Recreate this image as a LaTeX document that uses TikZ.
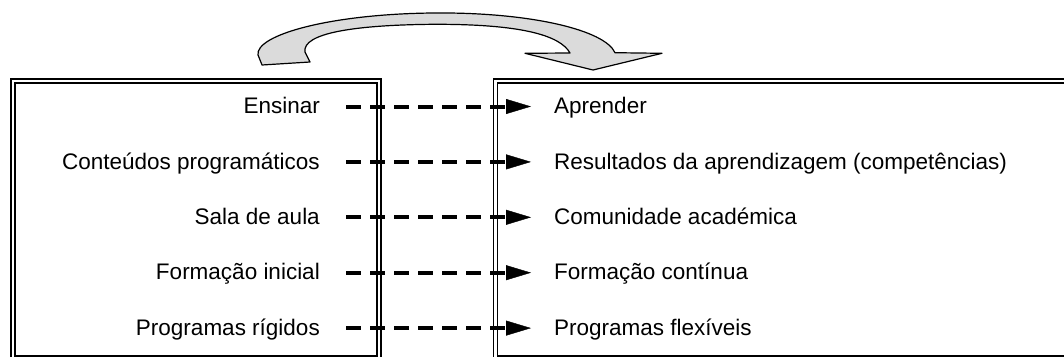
\documentclass[tikz,border=0pt]{standalone}
\usepackage{fontspec}
\setmainfont{Liberation Sans}
\usetikzlibrary{arrows.meta, positioning}

\begin{document}
\begin{tikzpicture}[x=1pt, y=-1pt, >=stealth]
    \tikzstyle{box} = [draw, double, line width=1.6pt, double distance=2.2pt, inner sep=0pt, anchor=north west]
    \tikzstyle{lab} = [inner sep=0pt, text height=16.5pt, text depth=2pt, font=\fontsize{22.5}{27}\selectfont]
    \tikzstyle{dasharr} = [line width=4pt, dash pattern=on 15pt off 9pt, -{Triangle[length=25pt, width=15pt, line width=0.4pt]}, shorten <=26pt, shorten >=23pt]

    \useasboundingbox (0,0) rectangle (1064,356);
    \clip (0,0) rectangle (1064,356);

    % curved arrow on top
    \draw[fill=black!14, line width=1.2pt, line join=round]
        (262,65) -- (258,55) .. controls (255,35) and (330,14) .. (433,13)
        .. controls (530,12) and (605,30) .. (615,52.7)
        -- (662,53.3) -- (593,70) -- (525,53.3) -- (570,53)
        .. controls (560,35) and (520,24) .. (433,24.3)
        .. controls (355,25) and (302,33) .. (305,52)
        -- (310,62) -- cycle;

    % the two boxes
    \node[box, minimum width=366.3pt, minimum height=276.8pt] (oldbox) at (12,80.2) {};
    \node[box, minimum width=573.3pt, minimum height=276.8pt] (newbox) at (494.7,80.2) {};

    \path
        node[lab, anchor=east] (ensinar) at (320,106.5) {Ensinar}
        node[lab, anchor=east] (conteudos) at (320,161.9) {Conteúdos programáticos}
        node[lab, anchor=east] (sala) at (320,217.3) {Sala de aula}
        node[lab, anchor=east] (inicial) at (320,272.7) {Formação inicial}
        node[lab, anchor=east] (rigidos) at (320,328.1) {Programas rígidos}

        node[lab, anchor=west] (aprender) at (554,106.5) {Aprender}
        node[lab, anchor=west] (resultados) at (554,161.9) {Resultados da aprendizagem (competências)}
        node[lab, anchor=west] (comunidade) at (554,217.3) {Comunidade académica}
        node[lab, anchor=west] (continua) at (554,272.7) {Formação contínua}
        node[lab, anchor=west] (flexiveis) at (554,328.1) {Programas flexíveis}

        (ensinar) edge[dasharr] (aprender)
        (conteudos) edge[dasharr] (resultados)
        (sala) edge[dasharr] (comunidade)
        (inicial) edge[dasharr] (continua)
        (rigidos) edge[dasharr] (flexiveis)
        ;
\end{tikzpicture}
\end{document}
